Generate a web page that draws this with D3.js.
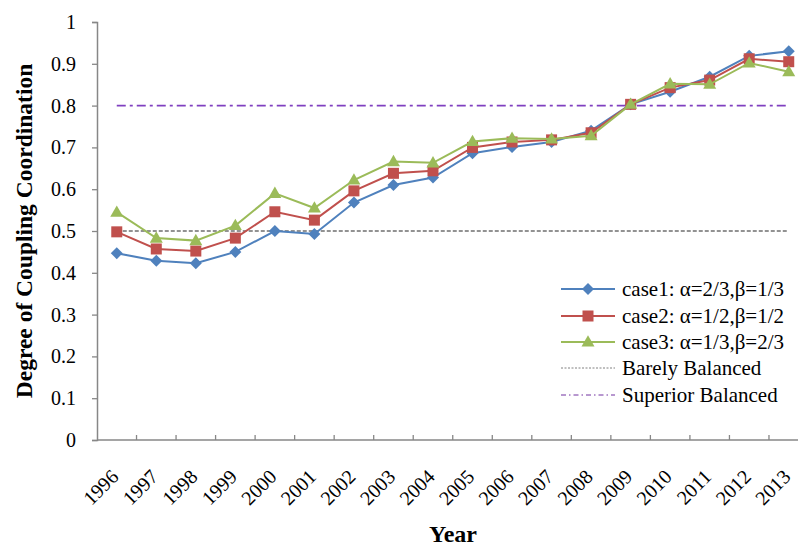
<!DOCTYPE html>
<html>
<head>
<meta charset="utf-8">
<script src="https://cdn.jsdelivr.net/npm/d3@7"></script>
<style>
  body { margin: 0; background: #fff; }
  text { font-family: "Liberation Serif", "Times New Roman", serif; }
</style>
</head>
<body>
<svg id="chart" width="798" height="546"></svg>
<script>
// Years on the category axis
const years = ["1996","1997","1998","1999","2000","2001","2002","2003","2004",
               "2005","2006","2007","2008","2009","2010","2011","2012","2013"];

// Coupling coordination degree for the three weighting cases
const case1 = [0.447,0.429,0.423,0.450,0.500,0.493,0.568,0.610,0.628,
               0.686,0.701,0.713,0.740,0.803,0.833,0.869,0.919,0.930];
const case2 = [0.498,0.457,0.452,0.483,0.546,0.526,0.596,0.638,0.644,
               0.700,0.713,0.718,0.735,0.803,0.843,0.861,0.912,0.905];
const case3 = [0.545,0.483,0.477,0.513,0.590,0.555,0.622,0.666,0.663,
               0.714,0.722,0.720,0.728,0.803,0.852,0.851,0.902,0.881];

// Threshold levels
const barelyBalanced = 0.5;
const superiorBalanced = 0.8;

const yTicks = [0,0.1,0.2,0.3,0.4,0.5,0.6,0.7,0.8,0.9,1];

const seriesNames = ["case1: \u03b1=2/3,\u03b2=1/3",
                     "case2: \u03b1=1/2,\u03b2=1/2",
                     "case3: \u03b1=1/3,\u03b2=2/3"];
const refNames = ["Barely Balanced", "Superior Balanced"];

const colors = ["#4f81bd", "#c0504d", "#9bbb59"];
const shapes = ["diamond", "square", "triangle"];

const svg = d3.select("#chart");

const plotL = 97, plotR = 808.5, plotT = 22, plotB = 440;

const x = d3.scaleBand().domain(years).range([plotL, plotR]).padding(0);
const y = d3.scaleLinear().domain([0, 1]).range([plotB, plotT]);
const cx = d => x(d) + x.bandwidth() / 2;

const axisColor = "#878787";

// Y axis
const yAxis = svg.append("g")
  .attr("transform", `translate(${plotL},0)`)
  .call(d3.axisLeft(y).tickValues(yTicks).tickSize(5).tickPadding(16)
    .tickFormat(d => (d === 0 || d === 1) ? String(d) : d3.format(".1f")(d)));
yAxis.select(".domain").attr("stroke", axisColor).attr("stroke-width", 1.5);
yAxis.selectAll(".tick line").attr("stroke", axisColor).attr("stroke-width", 1.3);
yAxis.selectAll(".tick text").attr("font-size", 20).attr("fill", "#000");

// X axis: baseline with tick marks on category boundaries
const xAxis = svg.append("g");
xAxis.append("line")
  .attr("x1", plotL).attr("x2", plotR).attr("y1", plotB).attr("y2", plotB)
  .attr("stroke", axisColor).attr("stroke-width", 1.5);
xAxis.selectAll("line.tick").data(years.slice(1).concat(["end"]))
  .join("line").attr("class", "tick")
  .attr("x1", d => d === "end" ? plotR : x(d))
  .attr("x2", d => d === "end" ? plotR : x(d))
  .attr("y1", plotB).attr("y2", plotB - 5)
  .attr("stroke", axisColor).attr("stroke-width", 1.3);
xAxis.selectAll("text").data(years).join("text")
  .attr("transform", d => `translate(${cx(d) + 3},${plotB + 38}) rotate(-45)`)
  .attr("text-anchor", "end")
  .attr("font-size", 20)
  .text(d => d);

// Reference lines
svg.append("line")
  .attr("x1", cx(years[0])).attr("x2", cx(years[years.length - 1]))
  .attr("y1", y(barelyBalanced)).attr("y2", y(barelyBalanced))
  .attr("stroke", "#6f6f6f").attr("stroke-width", 1.5)
  .attr("stroke-dasharray", "4,2");
svg.append("line")
  .attr("x1", cx(years[0])).attr("x2", cx(years[years.length - 1]))
  .attr("y1", y(superiorBalanced)).attr("y2", y(superiorBalanced))
  .attr("stroke", "#8040c0").attr("stroke-width", 1.8)
  .attr("stroke-dasharray", "9,4,3,4");

// Marker drawing helper
function marker(g, shape, color, px, py) {
  if (shape === "diamond") {
    const r = 6;
    g.append("path")
      .attr("d", `M${px},${py - r}L${px + r},${py}L${px},${py + r}L${px - r},${py}Z`)
      .attr("fill", color);
  } else if (shape === "square") {
    const s = 11;
    g.append("rect").attr("x", px - s / 2).attr("y", py - s / 2)
      .attr("width", s).attr("height", s).attr("fill", color);
  } else {
    const s = 13, h = s * 0.87;
    g.append("path")
      .attr("d", `M${px},${py - h * 0.6}L${px + s / 2},${py + h * 0.4}L${px - s / 2},${py + h * 0.4}Z`)
      .attr("fill", color);
  }
}

// Series
const allSeries = [case1, case2, case3];
const line = d3.line().x((d, i) => cx(years[i])).y(d => y(d));
allSeries.forEach((vals, k) => {
  const g = svg.append("g");
  g.append("path").datum(vals).attr("d", line)
    .attr("fill", "none").attr("stroke", colors[k]).attr("stroke-width", 2);
  vals.forEach((v, i) => marker(g, shapes[k], colors[k], cx(years[i]), y(v)));
});

// Legend
const lg = svg.append("g");
const lx1 = 561, lx2 = 615, lmx = 588, ltx = 622;
const rows = [289, 316, 342, 368, 395];
seriesNames.forEach((name, k) => {
  lg.append("line").attr("x1", lx1).attr("x2", lx2)
    .attr("y1", rows[k]).attr("y2", rows[k])
    .attr("stroke", colors[k]).attr("stroke-width", 2);
  marker(lg, shapes[k], colors[k], lmx, rows[k]);
  lg.append("text").attr("x", ltx).attr("y", rows[k] + 7)
    .attr("font-size", 21).text(name);
});
lg.append("line").attr("x1", lx1).attr("x2", lx2)
  .attr("y1", rows[3]).attr("y2", rows[3])
  .attr("stroke", "#808080").attr("stroke-width", 1).attr("stroke-dasharray", "2,1.5");
lg.append("text").attr("x", ltx).attr("y", rows[3] + 7)
  .attr("font-size", 21).text(refNames[0]);
lg.append("line").attr("x1", lx1).attr("x2", lx2)
  .attr("y1", rows[4]).attr("y2", rows[4])
  .attr("stroke", "#7030a0").attr("stroke-width", 1).attr("stroke-dasharray", "5,3,1.5,3");
lg.append("text").attr("x", ltx).attr("y", rows[4] + 7)
  .attr("font-size", 21).text(refNames[1]);

// Axis titles
svg.append("text")
  .attr("transform", `translate(32,${(plotT + plotB) / 2}) rotate(-90)`)
  .attr("text-anchor", "middle")
  .attr("font-size", 23.5).attr("font-weight", "bold")
  .text("Degree of Coupling Coordination");
svg.append("text")
  .attr("x", 453).attr("y", 542)
  .attr("text-anchor", "middle")
  .attr("font-size", 24).attr("font-weight", "bold")
  .text("Year");
</script>
</body>
</html>
